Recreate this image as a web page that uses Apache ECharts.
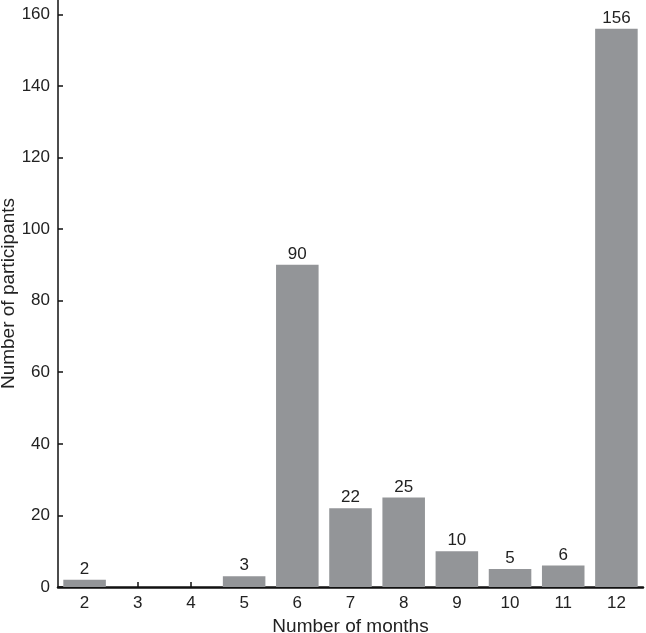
<!DOCTYPE html>
<html><head><meta charset="utf-8">
<script src="https://cdn.jsdelivr.net/npm/echarts@6/dist/echarts.min.js"></script>
<style>html,body{margin:0;padding:0;background:#fff}#c{width:646px;height:633px}</style>
</head><body><div id="c"></div>
<script>
const categories = ['2','3','4','5','6','7','8','9','10','11','12'];
const participants = [2,0,0,3,90,22,25,10,5,6,156];
const yTicks = [0,20,40,60,80,100,120,140,160];

const chart = echarts.init(document.getElementById('c'));
const font = 'Liberation Sans, Arial, Helvetica, sans-serif';
chart.setOption({
  animation: false,
  textStyle: { fontFamily: font },
  grid: { left: 58, right: 3, top: 0, bottom: 46, containLabel: false, outerBoundsMode: 'none' },
  xAxis: {
    type: 'category',
    data: categories,
    name: 'Number of months',
    nameLocation: 'middle',
    nameGap: 29,
    nameTextStyle: { fontSize: 19, color: '#222', fontFamily: font },
    axisLine: { lineStyle: { color: '#111', width: 2.5 } },
    axisTick: { show: true, inside: true, alignWithLabel: true, length: 5, lineStyle: { color: '#111', width: 1.5 } },
    axisLabel: { fontSize: 17, color: '#222', margin: 8, fontFamily: font },
    splitLine: { show: false }
  },
  yAxis: {
    type: 'value',
    min: 0,
    max: 164,
    interval: 20,
    name: 'Number of participants',
    nameLocation: 'middle',
    nameGap: 40,
    nameMoveOverlap: false,
    nameTextStyle: { fontSize: 19, color: '#222', fontFamily: font },
    axisLine: { show: true, lineStyle: { color: '#111', width: 1.5 } },
    axisTick: { show: true, inside: true, length: 5, lineStyle: { color: '#111', width: 1.5 } },
    axisLabel: { fontSize: 17, color: '#222', margin: 8, fontFamily: font, showMaxLabel: false,
      formatter: v => yTicks.includes(v) ? String(v) : '' },
    splitLine: { show: false }
  },
  series: [{
    type: 'bar',
    data: participants,
    barCategoryGap: '20%',
    itemStyle: { color: '#939598' },
    label: {
      show: true, position: 'top', distance: 2, fontSize: 17, color: '#222', fontFamily: font,
      formatter: p => p.value > 0 ? String(p.value) : ''
    }
  }]
});
</script></body></html>
